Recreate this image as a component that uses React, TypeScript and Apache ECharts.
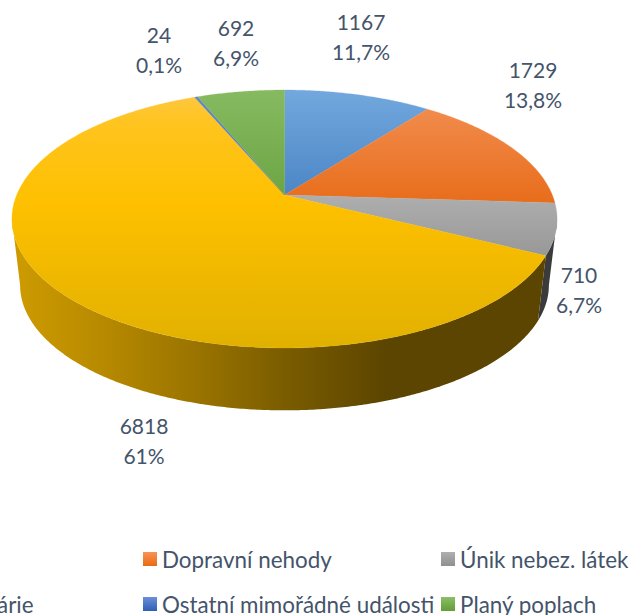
import React, { useEffect, useRef } from "react";
import * as echarts from "echarts";

const categories = ["Požáry", "Dopravní nehody", "Únik nebez. látek", "Technické havárie", "Ostatní mimořádné události", "Planý poplach"];
const values = [1167, 1729, 710, 6818, 24, 692];
const percentLabels = ["11,7%", "13,8%", "6,7%", "61%", "0,1%", "6,9%"];

// layout and style, kept apart from the data
const W = 632, H = 615;
const labelAnchors = [[361, 36], [533, 84], [579, 289], [144, 440], [159, 49], [236, 42]];
const topStops: [number, string][][] = [
  [[0, "#72a8dd"], [1, "#4c86c6"]],
  [[0, "#f18b4c"], [1, "#e86d1b"]],
  [[0, "#aeaeae"], [1, "#989898"]],
  [[0, "#fdc73f"], [0.1, "#ffc41f"], [0.42, "#fec000"], [1, "#e1b100"]],
  [[0, "#5f86cc"], [1, "#4a74c0"]],
  [[0, "#86ba61"], [1, "#6da544"]],
];
const legendStops = [
  ["#72a8dd", "#3f7cc0"], ["#f79356", "#ea6a10"], ["#b0b0b0", "#8f8f8f"],
  ["#ffcc40", "#e5ad00"], ["#6a90d8", "#2f5fb5"], ["#8bbf66", "#639c38"],
];
const baseRgb = [[91, 155, 213], [237, 125, 49], [165, 165, 165], [255, 192, 0], [68, 114, 196], [112, 173, 71]];
const wallLight: [number, number][] = [[0, 0.82], [20, 0.8], [100, 0.72], [200, 0.6], [285, 0.48], [385, 0.36], [632, 0.36]];
const textColor = "#44546A";
const font = "Lato";

// pie projection
const cx = 284.5, cy = 195, R = 267.8, HV = 124.5, P = 0.186;
const wallScale = 0.97, wallDrop = 67;

function project(theta: number, s = 1, dy = 0): number[] {
  const u = Math.sin(theta), v = -Math.cos(theta), w = 1 - P * v;
  return [cx + (s * R * u) / w, cy + dy + (s * HV * v) / w];
}

const legendCol = (names: number[], left: number) => ({
  orient: "vertical" as const,
  left,
  top: 548,
  padding: 0,
  width: 320,
  height: 150,
  itemWidth: 14,
  itemHeight: 14,
  itemGap: 23,
  selectedMode: false,
  icon: "rect",
  textStyle: { color: textColor, fontFamily: font, fontSize: 22.4 },
  data: names.map((i) => ({
    name: categories[i],
    itemStyle: {
      color: new echarts.graphic.LinearGradient(0, 0, 0, 1, [
        { offset: 0, color: legendStops[i][0] },
        { offset: 1, color: legendStops[i][1] },
      ]),
    },
  })),
});

export default function App() {
  const ref = useRef<HTMLDivElement>(null);
  useEffect(() => {
    const chart = echarts.init(ref.current!, undefined, { renderer: "svg" });
    const total = values.reduce((a, b) => a + b, 0);
    const visFrom = Math.acos(-P), visTo = 2 * Math.PI - visFrom;

    const renderItem = (params: any, api: any) => {
      const i = params.dataIndex;
      const value = api.value(0);
      const before = values.slice(0, i).reduce((a, b) => a + b, 0);
      const a0 = (before / total) * 2 * Math.PI;
      const a1 = ((before + value) / total) * 2 * Math.PI;
      const step = Math.PI / 360;
      const arc = (from: number, to: number, s = 1, dy = 0) => {
        const pts: number[][] = [];
        const n = Math.max(1, Math.ceil((to - from) / step));
        for (let k = 0; k <= n; k++) pts.push(project(from + ((to - from) * k) / n, s, dy));
        return pts;
      };
      const children: any[] = [];
      const wa = Math.max(a0, visFrom), wb = Math.min(a1, visTo);
      if (wb > wa) {
        const top = arc(wa, wb);
        const bottom = arc(wa, wb, wallScale, wallDrop).reverse();
        const rgb = baseRgb[i];
        children.push({
          type: "polygon",
          shape: { points: top.concat(bottom) },
          style: {
            fill: new echarts.graphic.LinearGradient(0, 0, W, 0,
              wallLight.map(([x, f]) => ({
                offset: x / W,
                color: `rgb(${Math.round(rgb[0] * f)},${Math.round(rgb[1] * f)},${Math.round(rgb[2] * f)})`,
              })), true),
          },
        });
      }
      const rim = arc(a0, a1);
      const pts = [[cx, cy], ...rim];
      const ys = pts.map((p) => p[1]);
      const y0 = Math.min(...ys), y1 = Math.max(...ys);
      const fill = new echarts.graphic.LinearGradient(0, y0, 0, y1,
        topStops[i].map(([offset, color]) => ({ offset, color })), true);
      children.push({ type: "polygon", shape: { points: pts }, style: { fill, stroke: fill, lineWidth: 0.3 } });
      children.push({
        type: "text",
        x: labelAnchors[i][0],
        y: labelAnchors[i][1],
        z2: 10,
        style: {
          text: `${value}\n${percentLabels[i]}`,
          fill: textColor,
          fontFamily: font,
          fontSize: 21,
          lineHeight: 30,
          align: "center",
          verticalAlign: "middle",
        },
      });
      return { type: "group", children };
    };

    chart.setOption({
      animation: false,
      backgroundColor: "#ffffff",
      legend: [legendCol([0, 3], -159), legendCol([1, 4], 143), legendCol([2, 5], 441)],
      series: [
        {
          type: "pie",
          radius: [0, 0],
          silent: true,
          label: { show: false },
          labelLine: { show: false },
          data: categories.map((name, i) => ({ name, value: values[i] })),
        },
        {
          type: "custom",
          coordinateSystem: "none",
          silent: true,
          data: values.map((v) => [v]),
          renderItem,
        },
      ],
    });
    return () => chart.dispose();
  }, []);
  return <div ref={ref} style={{ position: "fixed", left: 0, top: 0, width: W, height: H }} />;
}
